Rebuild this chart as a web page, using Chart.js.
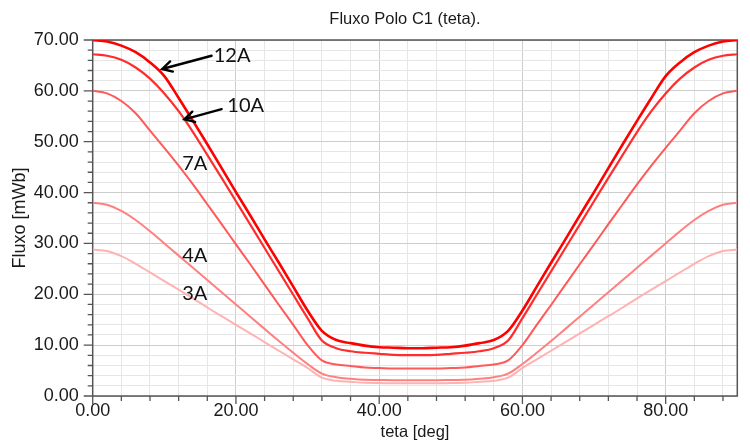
<!DOCTYPE html>
<html>
<head>
<meta charset="utf-8">
<script src="https://cdn.jsdelivr.net/npm/chart.js@4.4.1/dist/chart.umd.min.js"></script>
<style>
  html, body { margin: 0; padding: 0; background: #fff; }
</style>
</head>
<body>
<canvas id="fluxo" width="750" height="446"></canvas>
<script>
// teta [deg]
const teta = [0, 2, 4, 6, 8, 10, 12, 14, 16, 18, 20, 22, 24, 26, 28, 30, 32, 34, 36, 38, 40, 42, 44,
              46, 48, 50, 52, 54, 56, 58, 60, 62, 64, 66, 68, 70, 72, 74, 76, 78, 80, 82, 84, 86, 88, 90];

// Fluxo [mWb] por corrente
const fluxo12A = [70.0, 69.7, 68.9, 67.6, 65.6, 62.9, 58.6, 54.1, 49.5, 44.8, 40.1, 35.5, 30.8, 26.2, 21.5, 16.8, 12.8, 11.0, 10.4, 9.9, 9.6, 9.5, 9.4,
                  9.4, 9.5, 9.6, 9.9, 10.4, 11.0, 12.8, 16.8, 21.5, 26.2, 30.8, 35.5, 40.1, 44.8, 49.5, 54.1, 58.6, 62.9, 65.6, 67.6, 68.9, 69.7, 70.0];
const fluxo10A = [67.2, 66.9, 66.1, 64.6, 62.4, 59.5, 56.0, 51.9, 47.4, 42.9, 38.3, 33.7, 29.1, 24.5, 19.9, 15.3, 10.9, 9.4, 8.8, 8.5, 8.3, 8.1, 8.05,
                  8.05, 8.1, 8.3, 8.5, 8.8, 9.4, 10.9, 15.3, 19.9, 24.5, 29.1, 33.7, 38.3, 42.9, 47.4, 51.9, 56.0, 59.5, 62.4, 64.6, 66.1, 66.9, 67.2];
const fluxo7A = [60.0, 59.5, 58.0, 55.6, 52.2, 48.8, 45.3, 41.6, 37.7, 33.8, 29.8, 25.9, 21.9, 17.9, 14.0, 10.0, 7.0, 6.2, 5.9, 5.6, 5.5, 5.4, 5.4,
                 5.4, 5.4, 5.5, 5.6, 5.9, 6.2, 7.0, 10.0, 14.0, 17.9, 21.9, 25.9, 29.8, 33.8, 37.7, 41.6, 45.3, 48.8, 52.2, 55.6, 58.0, 59.5, 60.0];
const fluxo4A = [38.0, 37.6, 36.4, 34.6, 32.4, 30.0, 27.6, 25.2, 22.8, 20.4, 18.0, 15.6, 13.2, 10.8, 8.5, 6.3, 4.4, 3.7, 3.4, 3.2, 3.15, 3.1, 3.1,
                 3.1, 3.1, 3.15, 3.2, 3.4, 3.7, 4.4, 6.3, 8.5, 10.8, 13.2, 15.6, 18.0, 20.4, 22.8, 25.2, 27.6, 30.0, 32.4, 34.6, 36.4, 37.6, 38.0];
const fluxo3A = [28.8, 28.5, 27.5, 26.0, 24.3, 22.6, 20.9, 19.2, 17.4, 15.7, 14.0, 12.3, 10.6, 8.9, 7.2, 5.5, 3.6, 3.0, 2.8, 2.6, 2.55, 2.5, 2.5,
                 2.5, 2.5, 2.55, 2.6, 2.8, 3.0, 3.6, 5.5, 7.2, 8.9, 10.6, 12.3, 14.0, 15.7, 17.4, 19.2, 20.9, 22.6, 24.3, 26.0, 27.5, 28.5, 28.8];

const correntes = ['12A', '10A', '7A', '4A', '3A'];
const series = [fluxo12A, fluxo10A, fluxo7A, fluxo4A, fluxo3A];

const estilo = [
  { cor: 'rgb(255, 0, 0)',     largura: 2.6 },
  { cor: 'rgb(255, 45, 45)',   largura: 2.2 },
  { cor: 'rgb(255, 90, 90)',   largura: 2.0 },
  { cor: 'rgb(255, 128, 128)', largura: 2.0 },
  { cor: 'rgb(255, 178, 178)', largura: 2.0 }
];

// rótulos das curvas, em coordenadas do gráfico (teta, fluxo)
const notas = [
  { texto: '12A', x: 16.9, y: 65.7, seta: [16.6, 66.9, 9.7, 64.3] },
  { texto: '10A', x: 18.8, y: 55.8, seta: [18.0, 56.4, 12.8, 54.4] },
  { texto: '7A',  x: 12.5, y: 44.4 },
  { texto: '4A',  x: 12.5, y: 26.35 },
  { texto: '3A',  x: 12.5, y: 18.9 }
];

const corEixo = '#555555';
const fonteEixo = '"Liberation Sans", Arial, sans-serif';

const moldura = {
  id: 'moldura',
  beforeDatasetsDraw(chart) {
    const { ctx, chartArea: a } = chart;
    ctx.save();
    ctx.strokeStyle = corEixo;
    ctx.lineWidth = 1.5;
    ctx.strokeRect(a.left, a.top, a.right - a.left, a.bottom - a.top);
    ctx.restore();
  },
  afterDraw(chart) {
    const { ctx, chartArea: a, scales: { x, y } } = chart;
    ctx.save();

    // marcas dos eixos (maiores nos valores rotulados)
    ctx.strokeStyle = corEixo;
    ctx.lineWidth = 1.3;
    ctx.beginPath();
    y.ticks.forEach(t => {
      const py = y.getPixelForValue(t.value);
      const len = t.value % 10 === 0 ? 9 : 5;
      ctx.moveTo(a.left - len, py);
      ctx.lineTo(a.left, py);
    });
    x.ticks.forEach(t => {
      const px = x.getPixelForValue(t.value);
      const len = t.value % 20 === 0 ? 8 : 5;
      ctx.moveTo(px, a.bottom);
      ctx.lineTo(px, a.bottom + len);
    });
    ctx.stroke();

    // título
    ctx.fillStyle = '#1a1a1a';
    ctx.font = '16.5px ' + fonteEixo;
    ctx.textAlign = 'center';
    ctx.textBaseline = 'middle';
    ctx.fillText('Fluxo Polo C1 (teta).', (a.left + a.right) / 2 - 10, 19);

    // rótulos e setas
    ctx.font = '20px Lato, "Open Sans", sans-serif';
    ctx.textAlign = 'left';
    ctx.textBaseline = 'alphabetic';
    notas.forEach(n => {
      ctx.fillStyle = '#111';
      ctx.fillText(n.texto, x.getPixelForValue(n.x), y.getPixelForValue(n.y));
      if (!n.seta) return;
      const x0 = x.getPixelForValue(n.seta[0]), y0 = y.getPixelForValue(n.seta[1]);
      const x1 = x.getPixelForValue(n.seta[2]), y1 = y.getPixelForValue(n.seta[3]);
      const ang = Math.atan2(y1 - y0, x1 - x0);
      ctx.strokeStyle = '#000';
      ctx.lineWidth = 2.4;
      ctx.lineCap = 'round';
      ctx.beginPath();
      ctx.moveTo(x0, y0);
      ctx.lineTo(x1, y1);
      ctx.moveTo(x1 - 11 * Math.cos(ang - 0.5), y1 - 11 * Math.sin(ang - 0.5));
      ctx.lineTo(x1, y1);
      ctx.lineTo(x1 - 11 * Math.cos(ang + 0.5), y1 - 11 * Math.sin(ang + 0.5));
      ctx.stroke();
    });

    ctx.restore();
  }
};

new Chart(document.getElementById('fluxo'), {
  type: 'line',
  data: {
    datasets: series.map((s, i) => ({
      label: correntes[i],
      data: s.map((v, k) => ({ x: teta[k], y: v })),
      borderColor: estilo[i].cor,
      borderWidth: estilo[i].largura,
      pointRadius: 0,
      cubicInterpolationMode: 'monotone',
      fill: false,
      order: i
    }))
  },
  options: {
    responsive: false,
    devicePixelRatio: 1,
    animation: false,
    events: [],
    layout: { padding: { top: 40, right: 12.7, bottom: 0, left: 0 } },
    plugins: {
      legend: { display: false },
      tooltip: { enabled: false },
      title: { display: false }
    },
    scales: {
      x: {
        type: 'linear',
        min: 0,
        max: 90,
        afterFit: s => { s.height = 50; },
        ticks: {
          stepSize: 4,
          includeBounds: false,
          autoSkip: false,
          maxRotation: 0,
          padding: 4,
          color: '#1a1a1a',
          font: { family: fonteEixo, size: 18 },
          callback: v => (v % 20 === 0 ? v.toFixed(2) : '')
        },
        grid: {
          drawTicks: false,
          color: c => (c.tick && c.tick.value % 20 === 0 ? '#cdcdcd' : '#e6e6e6'),
          lineWidth: 1
        },
        border: { display: false },
        title: {
          display: true,
          text: 'teta [deg]',
          color: '#1a1a1a',
          font: { family: fonteEixo, size: 16.5 },
          padding: { top: 0, bottom: 4 }
        }
      },
      y: {
        min: 0,
        max: 70,
        afterFit: s => { s.width = 92.7; },
        ticks: {
          stepSize: 2,
          autoSkip: false,
          padding: 14,
          color: '#1a1a1a',
          font: { family: fonteEixo, size: 18 },
          callback: v => (v % 10 === 0 ? v.toFixed(2) : '')
        },
        grid: {
          drawTicks: false,
          color: c => (c.tick && c.tick.value % 10 === 0 ? '#cdcdcd' : '#e6e6e6'),
          lineWidth: 1
        },
        border: { display: false },
        title: {
          display: true,
          text: 'Fluxo [mWb]',
          color: '#1a1a1a',
          font: { family: fonteEixo, size: 18 },
          padding: { top: 9, bottom: 0 }
        }
      }
    }
  },
  plugins: [moldura]
});
</script>
</body>
</html>
